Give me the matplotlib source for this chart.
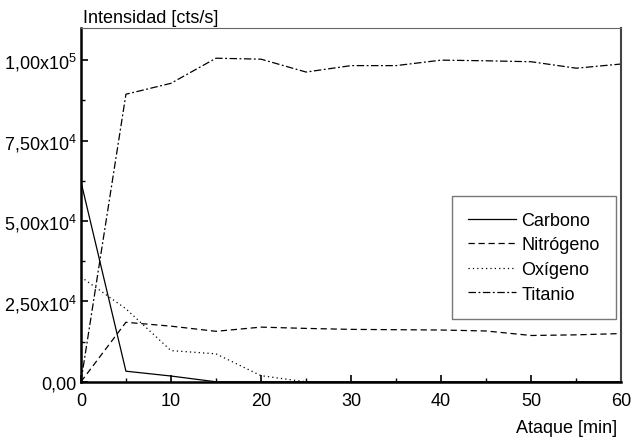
import matplotlib
matplotlib.use("Agg")
import matplotlib.pyplot as plt
from matplotlib.ticker import MultipleLocator, FuncFormatter

plt.rcParams['font.family'] = ['Liberation Sans', 'DejaVu Sans']
plt.rcParams['mathtext.fontset'] = 'custom'
plt.rcParams['mathtext.rm'] = 'Liberation Sans'
plt.rcParams['mathtext.it'] = 'Liberation Sans'

# sputtering time (min)
ataque = [0, 5, 10, 15, 20, 25, 30, 35, 40, 45, 50, 55, 60]

# intensities (cts/s)
carbono = [62300, 3300, 1800, 0, 0, 0, 0, 0, 0, 0, 0, 0, 0]
nitrogeno = [0, 18500, 17300, 15700, 17000, 16600, 16300, 16200, 16100, 15800, 14400, 14600, 15000]
oxigeno = [32600, 22700, 9700, 8700, 1900, 0, 0, 0, 0, 0, 0, 0, 0]
titanio = [0, 89400, 92800, 100600, 100300, 96300, 98300, 98300, 100000, 99800, 99500, 97500, 98800]

labels = ["Carbono", "Nitrógeno", "Oxígeno", "Titanio"]

fs = 13

fig = plt.figure(figsize=(6.32, 4.39), dpi=100)
ax = fig.add_axes([0.128, 0.128, 0.855, 0.806])

lw = 0.9
ax.plot(ataque, carbono, color="black", lw=lw, linestyle="-", label=labels[0])
ax.plot(ataque, nitrogeno, color="black", lw=lw, linestyle=(0, (5, 3)), label=labels[1])
ax.plot(ataque, oxigeno, color="black", lw=lw, linestyle=(0, (1, 2.5)), label=labels[2])
ax.plot(ataque, titanio, color="black", lw=lw, linestyle=(0, (6, 2, 1.5, 2)), label=labels[3])

ax.set_xlim(0, 60)
ax.set_ylim(0, 110000)
ax.xaxis.set_major_locator(MultipleLocator(10))
ax.xaxis.set_minor_locator(MultipleLocator(5))
ax.yaxis.set_major_locator(MultipleLocator(25000))
ax.yaxis.set_minor_locator(MultipleLocator(12500))


def yfmt(v, pos):
    if v == 0:
        return "0,00"
    exp = 0
    m = v
    while m >= 10:
        m /= 10
        exp += 1
    return ("%.2f" % m).replace(".", ",") + "x10$^{%d}$" % exp


ax.yaxis.set_major_formatter(FuncFormatter(yfmt))
ax.tick_params(which="both", direction="in", top=False, right=False, labelsize=fs, colors="black")
ax.tick_params(which="major", length=5, width=1.2)
ax.tick_params(which="minor", length=3, width=1)
ax.tick_params(axis="x", which="major", pad=7)
ax.tick_params(axis="y", which="major", pad=3)

ax.spines["left"].set_linewidth(1.8)
ax.spines["bottom"].set_linewidth(1.8)
ax.spines["top"].set_linewidth(0.8)
ax.spines["top"].set_color("#666666")
ax.spines["right"].set_linewidth(1.5)
ax.spines["right"].set_color("#444444")

fig.text(0.131, 0.948, "Intensidad [cts/s]", fontsize=fs, ha="left", va="baseline")
fig.text(0.977, 0.0137, "Ataque [min]", fontsize=fs, ha="right", va="baseline")

leg = ax.legend(loc="lower right", bbox_to_anchor=(0.99, 0.178), fontsize=fs,
                frameon=True, fancybox=False, edgecolor="#555555",
                handlelength=2.65, handletextpad=0.3, labelspacing=0.42,
                borderpad=0.9, borderaxespad=0)
leg.get_frame().set_linewidth(1.0)

fig.savefig("out.png", dpi=100)
